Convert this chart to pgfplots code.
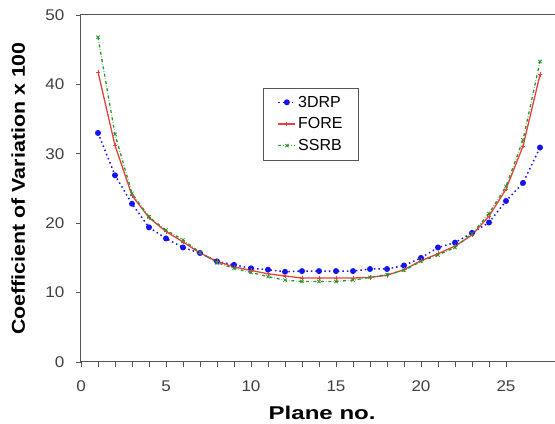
\documentclass[border=0pt]{standalone}
\usepackage{pgfplots}
\pgfplotsset{compat=1.18}
\usepackage{fontspec}
\setmainfont{Liberation Sans}
\definecolor{cblue}{RGB}{20,20,240}
\definecolor{cred}{RGB}{232,64,64}
\definecolor{cgreen}{RGB}{40,150,40}
\definecolor{axgray}{RGB}{85,85,85}
\begin{document}
\begin{tikzpicture}
\begin{axis}[
  scale only axis,
  width=479.4pt, height=347pt,
  xmin=0, xmax=28.2, ymin=0, ymax=50,
  xtick={0,5,10,15,20,25},
  minor x tick num=4,
  ytick={0,10,20,30,40,50},
  tick align=outside,
  xtick pos=bottom, ytick pos=left,
  major tick length=5pt, minor tick length=5pt,
  axis line style={axgray, line width=1pt},
  every tick/.style={axgray, line width=0.8pt},
  tick label style={font=\fontsize{15.5}{18}\selectfont, text=black!75, xscale=1.1},
  xticklabel style={yshift=-10pt},
  yticklabel style={xshift=-7pt},
  /pgf/number format/assume math mode=true,
  xlabel={\textbf{Plane no.}},
  ylabel={\textbf{Coefficient of Variation x 100}},
  xlabel style={font=\fontsize{18.5}{22}\selectfont, at={(axis description cs:0.503,-0.148)}, anchor=center, xscale=1.3},
  ylabel style={font=\fontsize{18.6}{22}\selectfont, at={(axis description cs:-0.131,0.5)}, anchor=center, xscale=1.15},
  legend style={at={(axis description cs:0.48,0.686)}, anchor=center,
    font=\fontsize{16}{19}\selectfont, draw=axgray, line width=0.8pt,
    row sep=5pt, inner xsep=14pt, inner ysep=6pt},
  legend cell align=left,
]
\addplot[cblue, line width=1.5pt, dash pattern=on 1.5pt off 3pt, mark=*, mark size=2.2pt, mark options={solid}] coordinates {
(1,33.0)(2,26.9)(3,22.8)(4,19.4)(5,17.8)(6,16.5)(7,15.7)(8,14.5)(9,14.0)(10,13.5)
(11,13.3)(12,13.0)(13,13.1)(14,13.1)(15,13.1)(16,13.1)(17,13.4)(18,13.4)(19,13.9)(20,15.0)
(21,16.5)(22,17.2)(23,18.6)(24,20.1)(25,23.2)(26,25.8)(27,30.9)};
\addlegendentry{3DRP}
\addplot[cred, solid, line width=1.3pt, mark=+, mark size=2.3pt, mark options={solid, line width=0.8pt}] coordinates {
(1,41.8)(2,31.2)(3,24.0)(4,20.8)(5,18.8)(6,17.3)(7,15.7)(8,14.5)(9,13.7)(10,13.2)
(11,12.7)(12,12.4)(13,12.1)(14,12.1)(15,12.1)(16,12.1)(17,12.2)(18,12.5)(19,13.3)(20,14.6)
(21,15.6)(22,16.7)(23,18.3)(24,21.0)(25,24.9)(26,31.1)(27,41.4)};
\addlegendentry{FORE}
\addplot[cgreen, dash dot, line width=1.3pt, mark=x, mark size=2.3pt, mark options={solid, line width=0.8pt}] coordinates {
(1,46.8)(2,32.8)(3,24.3)(4,20.9)(5,19.0)(6,17.6)(7,15.8)(8,14.3)(9,13.5)(10,12.9)
(11,12.3)(12,11.8)(13,11.6)(14,11.6)(15,11.6)(16,11.8)(17,12.2)(18,12.6)(19,13.2)(20,14.5)
(21,15.4)(22,16.5)(23,18.5)(24,21.4)(25,25.3)(26,32.0)(27,43.3)};
\addlegendentry{SSRB}
\end{axis}
\pgfresetboundingbox
\path ([shift={(-81pt,-62pt)}]current axis.south west) rectangle ([shift={(-5.4pt,15pt)}]current axis.north east);
\end{tikzpicture}
\end{document}
